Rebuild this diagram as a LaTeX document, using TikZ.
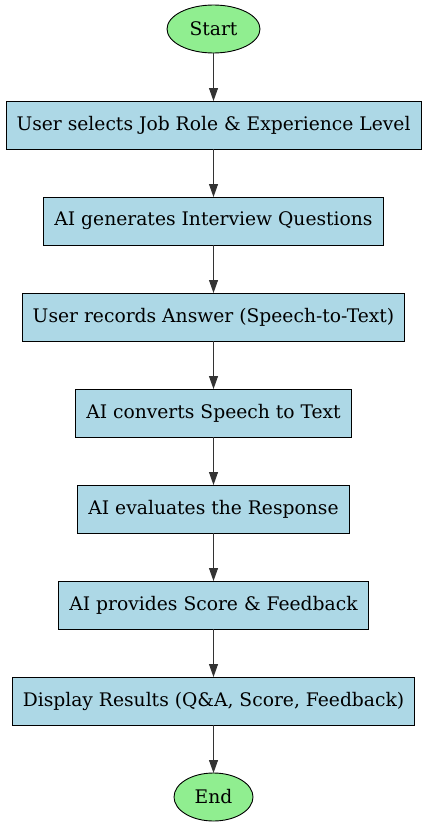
\documentclass[tikz,border=0pt]{standalone}
\usepackage{fontspec}
\setmainfont{DejaVu Serif}
\usetikzlibrary{positioning,shapes.geometric,arrows.meta}

\definecolor{lightblue}{HTML}{ADD8E6}
\definecolor{lightgreen}{HTML}{90EE90}

\tikzset{
  StepStyle/.style={rectangle,draw,fill=lightblue,line width=0.9pt,outer sep=0pt,
    minimum height=48pt,inner xsep=10.5pt,font=\fontsize{18.7pt}{21pt}\selectfont},
  EndStyle/.style={ellipse,draw,fill=lightgreen,line width=0.9pt,outer sep=0pt,
    minimum height=48pt,font=\fontsize{18.7pt}{21pt}\selectfont},
  EdgeStyle/.style={-{Triangle[length=13pt,width=9pt]},line width=0.9pt,draw=black!80}
}

\begin{document}
\begin{tikzpicture}[node distance=48pt]
\useasboundingbox (0pt,0pt) rectangle (428pt,-827pt);

\node[EndStyle,minimum width=93pt] (Start) at (213.5pt,-29pt) {Start};
\node[StepStyle,below=of Start] (Select) {User selects Job Role \& Experience Level};
\node[StepStyle,below=of Select] (Generate) {AI generates Interview Questions};
\node[StepStyle,below=of Generate] (Record) {User records Answer (Speech-to-Text)};
\node[StepStyle,below=of Record] (Convert) {AI converts Speech to Text};
\node[StepStyle,below=of Convert] (Evaluate) {AI evaluates the Response};
\node[StepStyle,below=of Evaluate] (Score) {AI provides Score \& Feedback};
\node[StepStyle,below=of Score] (Display) {Display Results (Q\&A, Score, Feedback)};
\node[EndStyle,minimum width=79pt,below=of Display] (End) {End};

\foreach \a/\b in {Start/Select,Select/Generate,Generate/Record,Record/Convert,
  Convert/Evaluate,Evaluate/Score,Score/Display,Display/End}
  \draw[EdgeStyle] (\a) -- (\b);
\end{tikzpicture}
\end{document}
